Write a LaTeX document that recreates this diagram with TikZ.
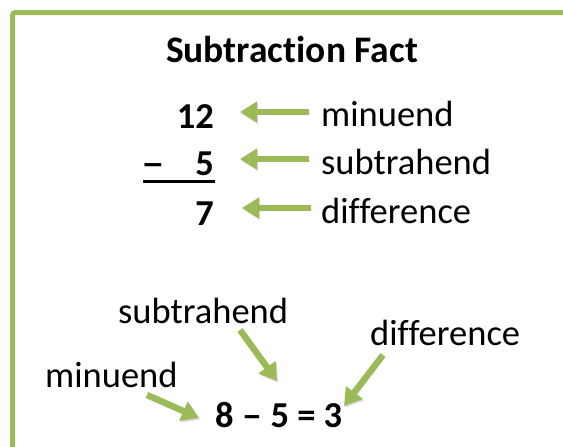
\documentclass[tikz,border=0pt]{standalone}
\usepackage{fontspec}
\setmainfont[Ligatures=CommonOff]{Carlito}
\usetikzlibrary{arrows.meta}
\definecolor{ogreen}{HTML}{9BBB59}
\begin{document}
\begin{tikzpicture}[x=1pt,y=-1pt,
  txt/.style={inner sep=0pt,font=\fontsize{36.5}{40}\selectfont},
  num/.style={inner sep=0pt,font=\fontsize{36.5}{40}\selectfont\bfseries},
  garrow/.style={draw=ogreen,line width=6.5pt,
    -{Triangle[width=20pt,length=17pt]},
    preaction={draw=black,opacity=0.15,transform canvas={shift={(1.2pt,-1.6pt)}}}},
  frameline/.style={draw=ogreen,line width=5pt,rounded corners=3pt}]
\useasboundingbox (0,0) rectangle (563,447);
\fill[white] (0,0) rectangle (563,447);
\draw[frameline] (12.5,460) -- (12.5,12.5) -- (575,12.5);

\node[num,anchor=base,font=\fontsize{37.5}{40}\selectfont\bfseries] (title) at (292,63) {Subtraction Fact};

% vertical subtraction
\node[num,anchor=base east] (n12) at (214,128) {12};
\node[num,anchor=base west] (minus) at (141,175) {\scalebox{1.3}[1]{–}};
\node[num,anchor=base east] (n5) at (214,175) {5};
\node[num,anchor=base east] (n7) at (214,225) {7};
\draw[line width=3pt] (143,181) -- (215,181);

\node[txt,anchor=base west] (lmin) at (321,126) {minuend};
\node[txt,anchor=base west] (lsub) at (321,174) {subtrahend};
\node[txt,anchor=base west] (ldif) at (321,223) {difference};

\coordinate (a1s) at (309,112); \coordinate (a1e) at (240,112);
\coordinate (a2s) at (309,159); \coordinate (a2e) at (240,159);
\coordinate (a3s) at (311,208); \coordinate (a3e) at (242,208);
\draw[garrow] (a1s) -- (a1e);
\draw[garrow] (a2s) -- (a2e);
\draw[garrow] (a3s) -- (a3e);

% horizontal fact
\node[txt,anchor=base west] (bsub) at (118,323) {subtrahend};
\node[txt,anchor=base west] (bdif) at (370,345) {difference};
\node[txt,anchor=base west] (bmin) at (45,387) {minuend};
\node[num,anchor=base west] (fact) at (215,427) {8 \scalebox{1.12}[1]{–} 5 = 3};

\coordinate (b1s) at (240,330); \coordinate (b1e) at (277,381);
\coordinate (b2s) at (147,395); \coordinate (b2e) at (199,418);
\coordinate (b3s) at (383,355); \coordinate (b3e) at (344,406);
\draw[garrow] (b1s) -- (b1e);
\draw[garrow] (b2s) -- (b2e);
\draw[garrow] (b3s) -- (b3e);
\end{tikzpicture}
\end{document}
